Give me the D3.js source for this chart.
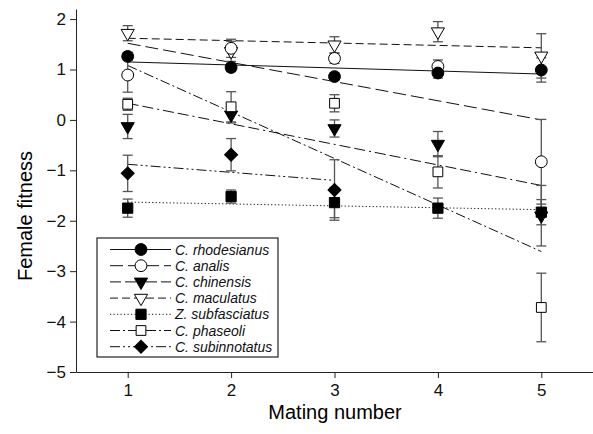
<!DOCTYPE html>
<html lang="en">
<head>
<meta charset="utf-8">
<style>
  body { margin: 0; background: white; }
  svg { font-family: 'Liberation Sans', Arial, sans-serif; }
  .axis path, .axis line { stroke: #222; }
  .axis text { fill: #111; font-size: 17px; }
  .fit { fill: none; stroke: #111; stroke-width: 1; }
  .err { stroke: #555; stroke-width: 1.3; }
  .legend text { font-style: italic; font-size: 14px; fill: #111; }
</style>
</head>
<body>
<svg width="593" height="434"></svg>
<script src="https://d3js.org/d3.v7.min.js"></script>
<script>
const matings = [1, 2, 3, 4, 5]
const species = ["C. rhodesianus", "C. analis", "C. chinensis", "C. maculatus",
                 "Z. subfasciatus", "C. phaseoli", "C. subinnotatus"]

// mean female fitness per mating number (null = no data)
const rhodesianus  = [1.26, 1.04, 0.86, 0.93, 0.99]
const analis       = [0.89, 1.42, 1.22, 1.06, -0.83]
const chinensis    = [-0.13, 0.10, -0.17, -0.48, -1.90]
const maculatus    = [1.72, 1.36, 1.49, 1.75, 1.27]
const subfasciatus = [-1.75, -1.52, -1.64, -1.75, -1.83]
const phaseoli     = [0.31, 0.26, 0.33, -1.03, -3.72]
const subinnotatus = [-1.06, -0.69, -1.39, null, null]

// standard errors
const seRhod  = [0.08, 0.08, 0.07, 0.1, 0.24]
const seAnal  = [0.34, 0.18, 0.1, 0.13, 0.84]
const seChin  = [0.24, 0.16, 0.17, 0.25, 0.6]
const seMacu  = [0.15, 0.2, 0.16, 0.2, 0.44]
const seSubf  = [0.18, 0.13, 0.3, 0.2, 0.25]
const sePhas  = [0.12, 0.3, 0.17, 0.32, 0.68]
const seSubi  = [0.36, 0.32, 0.6, null, null]

// fitted regression line ends: [first mating, last mating, value at first, value at last]
const fitRhod = [1, 5, 1.15, 0.91]
const fitAnal = [1, 5, 1.52, 0.0]
const fitChin = [1, 5, 0.33, -1.3]
const fitMacu = [1, 5, 1.62, 1.43]
const fitSubf = [1, 5, -1.63, -1.78]
const fitPhas = [1, 5, 1.08, -2.61]
const fitSubi = [1, 3, -0.88, -1.2]

const yTicks = [2, 1, 0, -1, -2, -3, -4, -5]

const means = [rhodesianus, analis, chinensis, maculatus, subfasciatus, phaseoli, subinnotatus]
const ses = [seRhod, seAnal, seChin, seMacu, seSubf, sePhas, seSubi]
const fits = [fitRhod, fitAnal, fitChin, fitMacu, fitSubf, fitPhas, fitSubi]

const dashes = [null, "13,5", "11,4,11,4,2,4", "8,4", "1.2,2.3", "10,3,2,3", "10,3,2,3,2,3"]
// marker: shape, filled
const markers = [
  { sym: d3.symbolCircle, size: 110, fill: "#000", rot: 0 },
  { sym: d3.symbolCircle, size: 110, fill: "#fff", rot: 0 },
  { sym: d3.symbolTriangle, size: 75, fill: "#000", rot: 180 },
  { sym: d3.symbolTriangle, size: 75, fill: "#fff", rot: 180 },
  { sym: d3.symbolSquare, size: 105, fill: "#000", rot: 0 },
  { sym: d3.symbolSquare, size: 95, fill: "#fff", rot: 0 },
  { sym: d3.symbolSquare, size: 85, fill: "#000", rot: 45 }
]

const svg = d3.select("svg")
const x = d3.scaleLinear().domain([0.5, 5.5]).range([76, 593])
const y = d3.scaleLinear().domain([-5, 2.2]).range([372, 9])

svg.append("g")
  .attr("class", "axis")
  .attr("transform", "translate(0,372)")
  .call(d3.axisBottom(x).tickValues(matings).tickSize(6).tickPadding(6).tickSizeOuter(0)
        .tickFormat(d3.format("d")))
svg.append("g")
  .attr("class", "axis")
  .attr("transform", "translate(76,0)")
  .call(d3.axisLeft(y).tickValues(yTicks).tickSize(6).tickPadding(4).tickSizeOuter(0)
        .tickFormat(d => d < 0 ? "\u2212" + Math.abs(d) : d))

svg.append("text").attr("x", 335).attr("y", 419).attr("text-anchor", "middle")
  .attr("font-size", 20).text("Mating number")
svg.append("text").attr("transform", "translate(32,216) rotate(-90)")
  .attr("text-anchor", "middle").attr("font-size", 20).text("Female fitness")

// regression lines
fits.forEach((f, i) => {
  svg.append("line").attr("class", "fit")
    .attr("x1", x(f[0])).attr("x2", x(f[1]))
    .attr("y1", y(f[2])).attr("y2", y(f[3]))
    .attr("stroke-dasharray", dashes[i])
})

// error bars
const cap = 5
means.forEach((m, i) => {
  m.forEach((v, j) => {
    if (v === null) return
    const cx = x(matings[j]), lo = y(v - ses[i][j]), hi = y(v + ses[i][j])
    const g = svg.append("g")
    g.append("line").attr("class", "err").attr("x1", cx).attr("x2", cx).attr("y1", lo).attr("y2", hi)
    g.append("line").attr("class", "err").attr("x1", cx - cap).attr("x2", cx + cap).attr("y1", lo).attr("y2", lo)
    g.append("line").attr("class", "err").attr("x1", cx - cap).attr("x2", cx + cap).attr("y1", hi).attr("y2", hi)
  })
})

// markers, drawn so rhodesianus ends up on top like the original
const drawOrder = [6, 4, 2, 5, 3, 1, 0]
drawOrder.forEach(i => {
  const mk = markers[i]
  means[i].forEach((v, j) => {
    if (v === null) return
    svg.append("path")
      .attr("d", d3.symbol().type(mk.sym).size(mk.size)())
      .attr("transform", `translate(${x(matings[j])},${y(v)}) rotate(${mk.rot})`)
      .attr("fill", mk.fill).attr("stroke", "#000").attr("stroke-width", 1)
  })
})

// legend
const lg = svg.append("g").attr("class", "legend")
lg.append("rect").attr("x", 97).attr("y", 238).attr("width", 181).attr("height", 119)
  .attr("fill", "white").attr("stroke", "#222").attr("stroke-width", 1.2)
species.forEach((s, i) => {
  const ly = 249.5 + i * 16.2
  lg.append("line").attr("class", "fit").attr("x1", 110).attr("x2", 171)
    .attr("y1", ly).attr("y2", ly).attr("stroke-dasharray", dashes[i])
  const mk = markers[i]
  lg.append("path")
    .attr("d", d3.symbol().type(mk.sym).size(mk.size)())
    .attr("transform", `translate(141,${ly}) rotate(${mk.rot})`)
    .attr("fill", mk.fill).attr("stroke", "#000")
  lg.append("text").attr("x", 175).attr("y", ly + 5).text(s)
})
</script>
</body>
</html>
